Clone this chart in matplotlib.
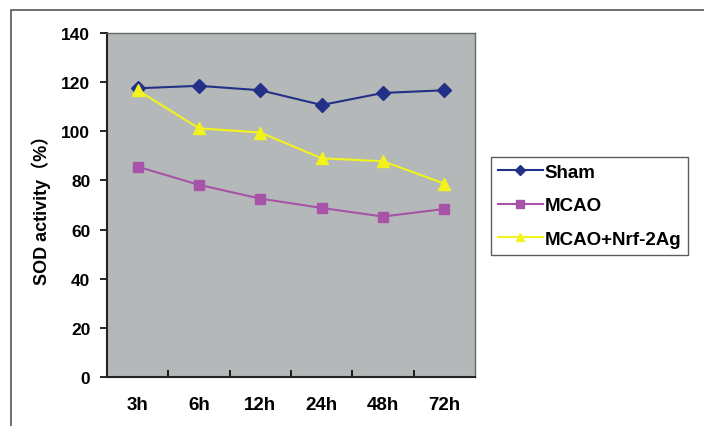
import matplotlib.pyplot as plt
from matplotlib.patches import Rectangle

times = ['3h', '6h', '12h', '24h', '48h', '72h']
sham = [117.5, 118.5, 116.7, 110.7, 115.6, 116.7]
mcao = [85.6, 78.2, 72.6, 68.8, 65.3, 68.4]
mcao_nrf = [116.7, 101.2, 99.5, 89.0, 87.8, 78.7]

plt.rcParams['font.family'] = ['Liberation Sans', 'Noto Sans CJK SC', 'DejaVu Sans']
plt.rcParams['font.weight'] = 'bold'

fig = plt.figure(figsize=(7.04, 4.27), dpi=100)
W, H = 704, 427
ax = fig.add_axes([107 / W, 1 - 378 / H, (475 - 107) / W, (378 - 34) / H])
ax.set_facecolor('#b4b8b8')

x = range(len(times))
ax.plot(x, sham, color='#233087', marker='D', markersize=7, lw=1.5, label='Sham')
ax.plot(x, mcao, color='#a653a8', marker='s', markersize=7, lw=1.5, label='MCAO')
ax.plot(x, mcao_nrf, color='#f2f21c', marker='^', markersize=8, lw=1.5, label='MCAO+Nrf-2Ag')

ax.set_xlim(-0.5, len(times) - 0.5)
ax.set_ylim(0, 140)
ax.set_yticks(range(0, 141, 20))
ax.set_xticks([i + 0.5 for i in range(len(times) - 1)])
ax.set_xticklabels([])
ax.set_xticks(list(x), minor=True)
ax.set_xticklabels(times, minor=True, fontsize=13.5, fontweight='bold')
ax.tick_params(axis='x', which='major', direction='in', length=5, width=1.2)
ax.tick_params(axis='x', which='minor', length=0, pad=14)
ax.tick_params(axis='y', direction='out', length=5, width=1.2, labelsize=12.5, pad=7)

for s in ['left', 'bottom']:
    ax.spines[s].set_linewidth(1.5)
    ax.spines[s].set_color('#222222')
for s in ['top', 'right']:
    ax.spines[s].set_linewidth(1.0)
    ax.spines[s].set_color('#666666')

ax.set_ylabel('SOD activity（%）', fontsize=13, fontweight='bold', labelpad=7)

leg = fig.legend(loc='upper left', bbox_to_anchor=(491 / W, 1 - 158 / H), fontsize=13.5,
                 frameon=True, fancybox=False, edgecolor='#333333', borderpad=0.35,
                 handlelength=2.4, handletextpad=0.1, labelspacing=0.88, borderaxespad=0,
                 markerscale=0.75)
leg.get_frame().set_linewidth(1.0)

# outer chart border
fig.patches.append(Rectangle((11 / W, -0.1), 1.0, 1 - 11 / H + 0.1, transform=fig.transFigure,
                             fill=False, edgecolor='#555555', lw=1.2))

fig.savefig('out.png', dpi=100)
